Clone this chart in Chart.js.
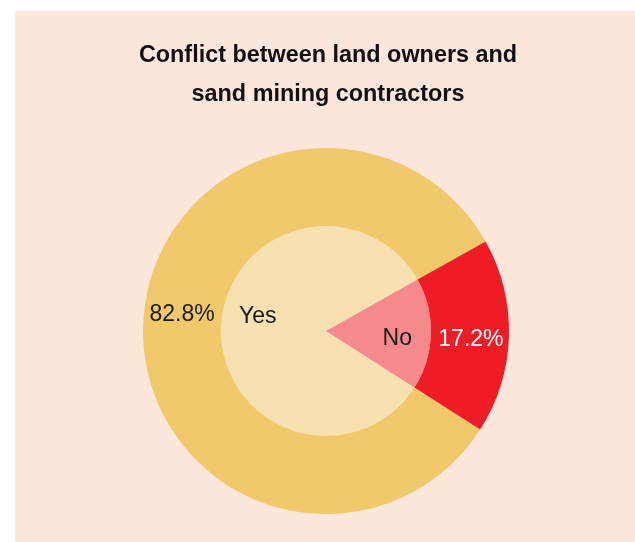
<!DOCTYPE html>
<html>
<head>
<meta charset="utf-8">
<script src="https://cdn.jsdelivr.net/npm/chart.js@4"></script>
<style>
  html, body { margin: 0; padding: 0; background: #ffffff; }
  #panel { position: absolute; left: 15px; top: 11px; width: 620px; height: 531px; background: #fde6dc; }
  canvas { display: block; }
</style>
</head>
<body>
<div id="panel"><canvas id="c" width="620" height="531"></canvas></div>
<script>
// Survey answers and their shares (percent)
const categories = ['Yes', 'No'];
const shares = [82.8, 17.2];
const titleLines = ['Conflict between land owners and', 'sand mining contractors'];

const outerColors = ['#f0c96b', '#ee1d25'];
const innerColors = ['#f7e1b1', '#f58a8d'];

const FONT = '"Liberation Sans", Arial, Helvetica, sans-serif';

// Start so that the "No" slice sits just below the 3 o'clock direction
const rotation = 91.65 - (shares[0] + shares[1] / 2) / 100 * 360;

const titlePlugin = {
  id: 'titleText',
  afterDraw(chart) {
    const ctx = chart.ctx;
    ctx.save();
    ctx.fillStyle = '#111111';
    ctx.font = 'bold 23.4px ' + FONT;
    ctx.textAlign = 'center';
    ctx.textBaseline = 'middle';
    titleLines.forEach((t, i) => ctx.fillText(t, 313, 45 + i * 39));
    ctx.restore();
  }
};

const sliceLabels = {
  id: 'sliceLabels',
  afterDatasetsDraw(chart) {
    const ctx = chart.ctx;
    ctx.save();
    ctx.font = '23px ' + FONT;
    ctx.textAlign = 'center';
    ctx.textBaseline = 'middle';
    const offOuter = [[0, -12], [1, 5]];
    const offInner = [[2, -12], [1, 6]];
    // outer ring: percentages
    chart.getDatasetMeta(0).data.forEach((arc, i) => {
      const p = arc.getProps(['x', 'y', 'startAngle', 'endAngle', 'innerRadius', 'outerRadius'], true);
      const a = (p.startAngle + p.endAngle) / 2;
      const r = (p.innerRadius + p.outerRadius) / 2;
      ctx.fillStyle = i === 1 ? '#ffffff' : '#1a1a1a';
      ctx.fillText(shares[i].toFixed(1) + '%',
        p.x + Math.cos(a) * r + offOuter[i][0], p.y + Math.sin(a) * r + offOuter[i][1]);
    });
    // inner pie: category names
    chart.getDatasetMeta(1).data.forEach((arc, i) => {
      const p = arc.getProps(['x', 'y', 'startAngle', 'endAngle', 'outerRadius'], true);
      const a = (p.startAngle + p.endAngle) / 2;
      const r = p.outerRadius * 0.67;
      ctx.fillStyle = '#1a1a1a';
      ctx.fillText(categories[i],
        p.x + Math.cos(a) * r + offInner[i][0], p.y + Math.sin(a) * r + offInner[i][1]);
    });
    ctx.restore();
  }
};

new Chart(document.getElementById('c'), {
  type: 'doughnut',
  data: {
    labels: categories,
    datasets: [
      { data: shares, backgroundColor: outerColors, borderWidth: 0, weight: 78 },
      { data: shares, backgroundColor: innerColors, borderWidth: 0, weight: 105 }
    ]
  },
  options: {
    responsive: false,
    animation: false,
    cutout: 0,
    rotation: rotation,
    layout: { padding: { left: 128, right: 126, top: 137, bottom: 28 } },
    plugins: {
      legend: { display: false },
      title: { display: false },
      tooltip: { enabled: false }
    }
  },
  plugins: [titlePlugin, sliceLabels]
});
</script>
</body>
</html>
